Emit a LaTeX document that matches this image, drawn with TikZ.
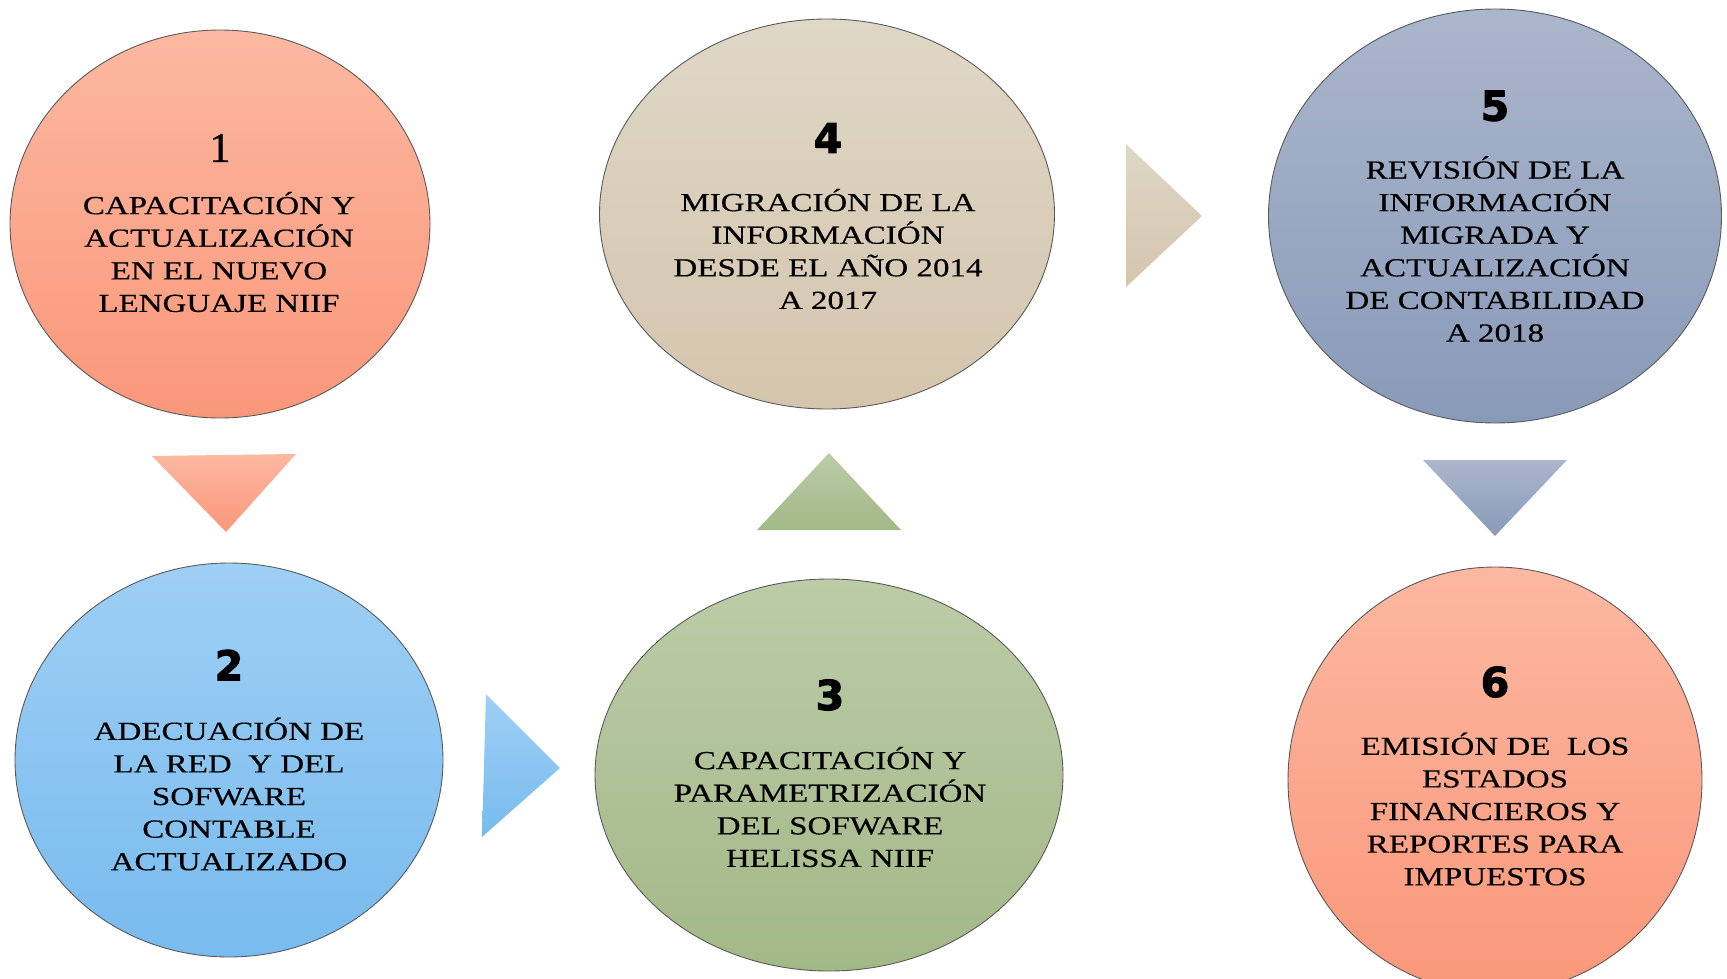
\documentclass[tikz,border=0pt]{standalone}
\usepackage{fontspec}
\setmainfont{Liberation Serif}
\newfontfamily\capsfont[FakeStretch=1.27,FakeBold=0.4]{Liberation Serif}
\newfontfamily\onefont[FakeBold=0.8]{Liberation Serif}
\newfontfamily\numfont[FakeBold=2.6]{DejaVu Sans}
\usetikzlibrary{shapes.geometric}
\definecolor{salT}{RGB}{252,184,161}
\definecolor{salB}{RGB}{250,151,122}
\definecolor{bluT}{RGB}{158,207,245}
\definecolor{bluB}{RGB}{120,187,238}
\definecolor{grnT}{RGB}{188,204,167}
\definecolor{grnB}{RGB}{163,184,135}
\definecolor{tanT}{RGB}{223,215,199}
\definecolor{tanB}{RGB}{213,197,173}
\definecolor{gryT}{RGB}{170,182,204}
\definecolor{gryB}{RGB}{137,154,184}
\definecolor{rim}{RGB}{90,90,90}
\begin{document}
\begin{tikzpicture}[x=1pt,y=-1pt,
  bubble/.style={ellipse, draw=rim, line width=0.9pt, inner sep=0pt},
  txt/.style={align=center, inner sep=0pt, font=\capsfont\fontsize{26}{32.6}\selectfont},
  num/.style={inner sep=0pt, font=\numfont\bfseries\fontsize{41}{41}\selectfont},
  onenum/.style={inner sep=0pt, font=\onefont\fontsize{42}{42}\selectfont}]
\useasboundingbox (0,0) rectangle (1727,979);
\clip (0,0) rectangle (1727,979);
% ellipses
\node[bubble, top color=salT, bottom color=salB, minimum width=420pt, minimum height=388pt] (e1) at (220,224) {};
\node[bubble, top color=bluT, bottom color=bluB, minimum width=428pt, minimum height=394pt] (e2) at (229,760) {};
\node[bubble, top color=grnT, bottom color=grnB, minimum width=468pt, minimum height=392pt] (e3) at (829,775) {};
\node[bubble, top color=tanT, bottom color=tanB, minimum width=455pt, minimum height=390pt] (e4) at (827,214) {};
\node[bubble, top color=gryT, bottom color=gryB, minimum width=453pt, minimum height=414pt] (e5) at (1495,216) {};
\node[bubble, top color=salT, bottom color=salB, minimum width=414pt, minimum height=426pt] (e6) at (1495,780) {};
% numbers
\node[onenum] (n1) at (220,148) {1};
\node[num] (n2) at (229,665) {2};
\node[num] (n3) at (830,695) {3};
\node[num] (n4) at (828,138) {4};
\node[num] (n5) at (1495,106) {5};
\node[num] (n6) at (1495,682) {6};
% texts
\node[txt] (t1) at (219,252) {CAPACITACIÓN Y\\ACTUALIZACIÓN\\EN EL NUEVO\\LENGUAJE NIIF};
\node[txt] (t2) at (229,794) {ADECUACIÓN DE\\LA RED\ \ Y DEL\\SOFWARE\\CONTABLE\\ACTUALIZADO};
\node[txt] (t3) at (830,807) {CAPACITACIÓN Y\\PARAMETRIZACIÓN\\DEL SOFWARE\\HELISSA NIIF};
\node[txt] (t4) at (828,249) {MIGRACIÓN DE LA\\INFORMACIÓN\\DESDE EL AÑO 2014\\A 2017};
\node[txt] (t5) at (1495,249) {REVISIÓN DE LA\\INFORMACIÓN\\MIGRADA Y\\ACTUALIZACIÓN\\DE CONTABILIDAD\\A 2018};
\node[txt] (t6) at (1495,809) {EMISIÓN DE\ \ LOS\\ESTADOS\\FINANCIEROS Y\\REPORTES PARA\\IMPUESTOS};
% arrow triangles
\shade[top color=salT, bottom color=salB] (152,456) -- (296,454) -- (226,532) -- cycle;
\shade[top color=bluT, bottom color=bluB] (486,694) -- (560,768) -- (482,837) -- cycle;
\shade[top color=grnT, bottom color=grnB] (829,453) -- (901,530) -- (757,530) -- cycle;
\shade[top color=tanT, bottom color=tanB] (1126,144) -- (1202,216) -- (1126,287) -- cycle;
\shade[top color=gryT, bottom color=gryB] (1423,460) -- (1567,460) -- (1495,536) -- cycle;
\end{tikzpicture}
\end{document}
